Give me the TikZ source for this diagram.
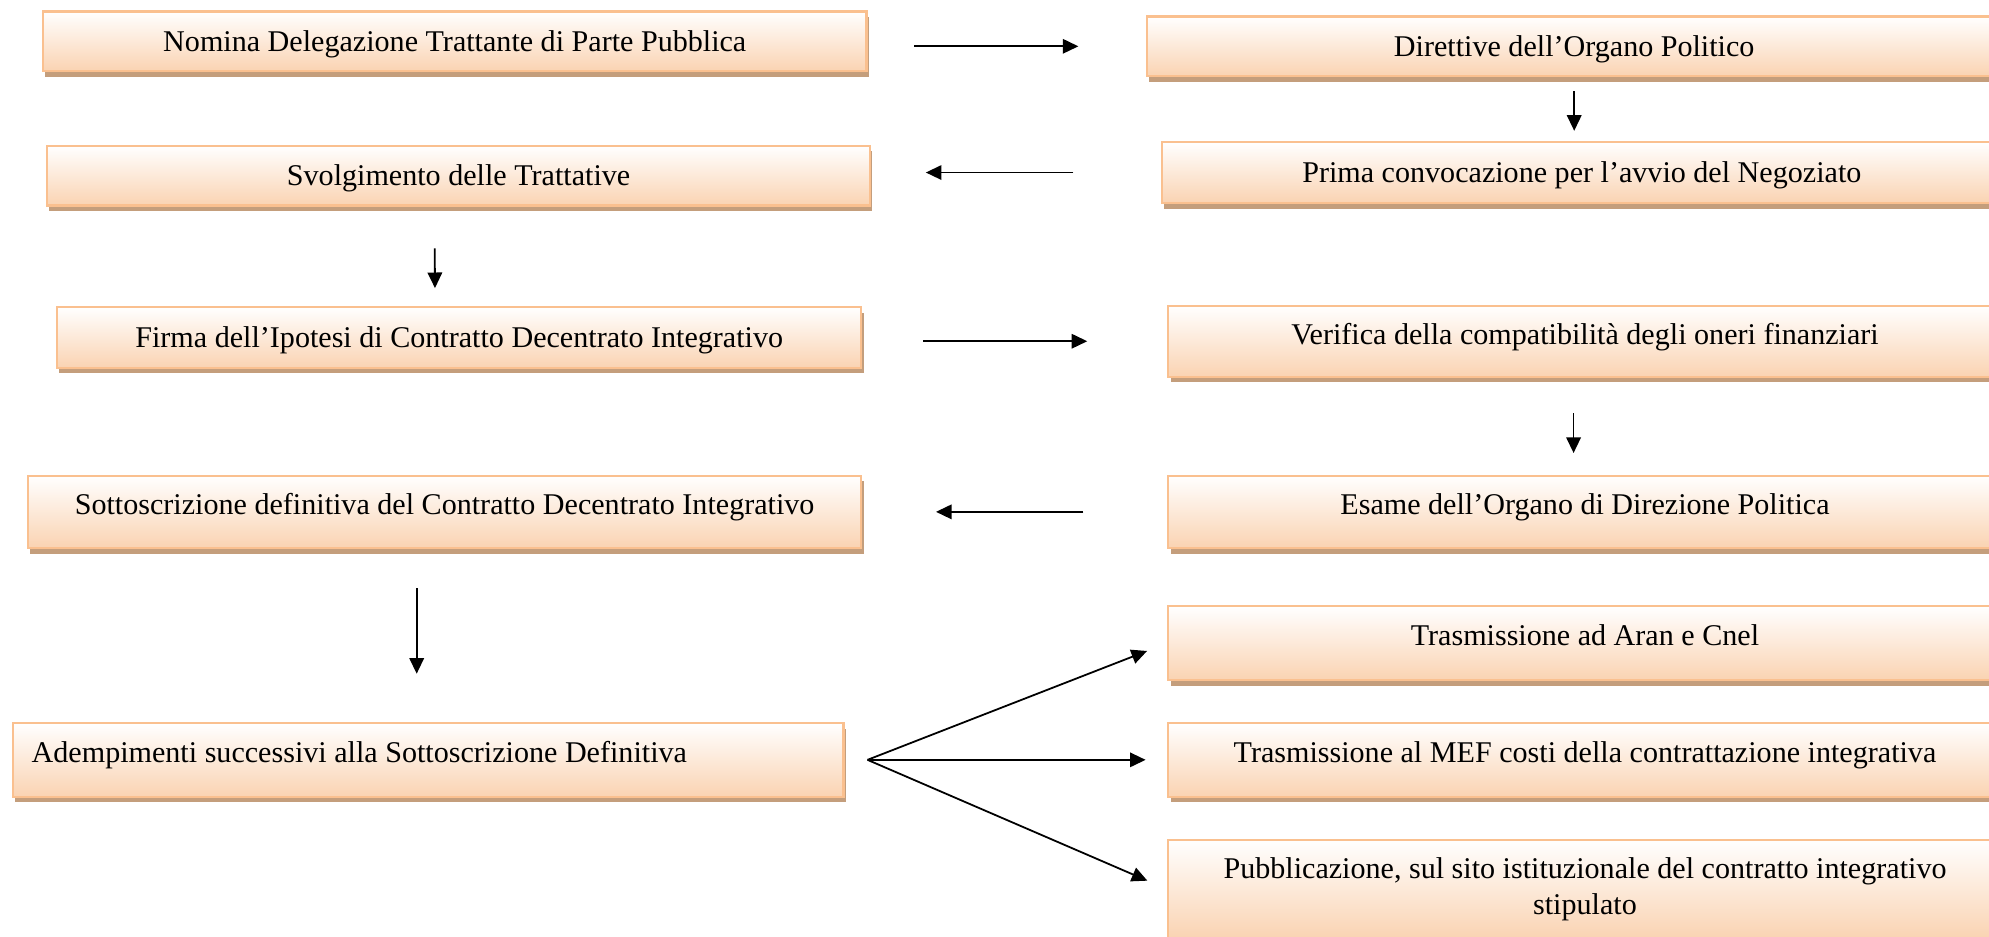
\documentclass[tikz,border=0pt]{standalone}
\usepackage{fontspec}
\setmainfont{Liberation Serif}
\usetikzlibrary{calc,arrows.meta,shadows}
\definecolor{pesca}{RGB}{250,211,178}
\definecolor{bordo}{RGB}{250,192,143}
\definecolor{ombra}{RGB}{196,158,124}
\newlength\pxu
\setlength\pxu{0.2mm}

\begin{document}
\begin{tikzpicture}[x=0.2mm, y=-0.2mm,
    fase/.style={draw=bordo, line width=1pt, top color=white, bottom color=pesca,
      inner xsep=0pt, font=\fontsize{13.5}{16}\selectfont,
      drop shadow={shadow xshift=1pt, shadow yshift=-2.5pt, fill=ombra, opacity=1}},
    riga/.style={text height=12pt, text depth=3pt},
    su/.style={text height=12.5pt, text depth=10pt},
    freccia/.style={-{Triangle[length=7pt,width=6.5pt]}, line width=0.8pt}]
      \useasboundingbox (0, 0) rectangle (1568, 738);
      \clip (0, 0) rectangle (1568, 738);
      \node[fase, riga, minimum width=649\pxu, minimum height=47\pxu] (nomina) at (358.5, 32.5) {Nomina Delegazione Trattante di Parte Pubblica};
      \node[fase, riga, minimum width=674\pxu, minimum height=47\pxu] (direttive) at (1241, 36.5) {Direttive dell’Organo Politico};
      \node[fase, riga, minimum width=649\pxu, minimum height=47\pxu] (svolg) at (361.5, 138.5) {Svolgimento delle Trattative};
      \node[fase, riga, minimum width=662\pxu, minimum height=48\pxu] (prima) at (1247, 136) {Prima convocazione per l’avvio del Negoziato};
      \node[fase, riga, minimum width=634\pxu, minimum height=48\pxu] (firma) at (362, 266) {Firma dell’Ipotesi di Contratto Decentrato Integrativo};
      \node[fase, su, minimum width=657\pxu, minimum height=56\pxu] (verifica) at (1249.5, 269) {Verifica della compatibilità degli oneri finanziari};
      \node[fase, su, minimum width=657\pxu, minimum height=57\pxu] (sott) at (350.5, 403.5) {Sottoscrizione definitiva del Contratto Decentrato Integrativo};
      \node[fase, su, minimum width=657\pxu, minimum height=57\pxu] (esame) at (1249.5, 403.5) {Esame dell’Organo di Direzione Politica};
      \node[fase, su, minimum width=657\pxu, minimum height=58\pxu] (aran) at (1249.5, 507) {Trasmissione ad Aran e Cnel};
      \node[fase, su, minimum width=657\pxu, minimum height=58\pxu] (mef) at (1249.5, 599) {Trasmissione al MEF costi della contrattazione integrativa};
      \node[fase, minimum width=657\pxu, minimum height=78\pxu, align=center] (pubbl) at (1249.5, 701) {Pubblicazione, sul sito istituzionale del contratto integrativo\\stipulato};
      \node[fase, su, inner xsep=15\pxu, text width=625\pxu, align=flush left, minimum height=58\pxu] (adem) at (337.5, 599) {Adempimenti successivi alla Sottoscrizione Definitiva};
      \draw[freccia, shorten <=37\pxu, shorten >=53\pxu] (direttive.west -| nomina.east) -- (direttive.west);
      \draw[freccia, shorten <=11\pxu, shorten >=8\pxu] (direttive.south) -- (direttive.south |- prima.north);
      \draw[freccia, shorten <=69\pxu, shorten >=43\pxu] (prima.west) -- (prima.west -| svolg.east);
      \draw[freccia, shorten <=33\pxu, shorten >=14\pxu] ([xshift=-19\pxu]svolg.south) -- ([xshift=-19\pxu]firma.north);
      \draw[freccia, shorten <=48\pxu, shorten >=63\pxu] (verifica.west -| firma.east) -- (verifica.west);
      \draw[freccia, shorten <=28\pxu, shorten >=17\pxu] ([xshift=-9\pxu]verifica.south) -- ([xshift=-9\pxu]esame.north);
      \draw[freccia, shorten <=66\pxu, shorten >=58\pxu] (esame.west) -- (sott.east);
      \draw[freccia, shorten <=31\pxu, shorten >=38\pxu] ([xshift=-22\pxu]sott.south) -- ([xshift=-9\pxu]adem.north);
      \coordinate (fan) at ([xshift=18\pxu]adem.east);
      \foreach \dst in {aran, mef, pubbl}
        \draw[freccia, shorten >=17\pxu] (fan) -- (\dst.west);
\end{tikzpicture}
\end{document}
